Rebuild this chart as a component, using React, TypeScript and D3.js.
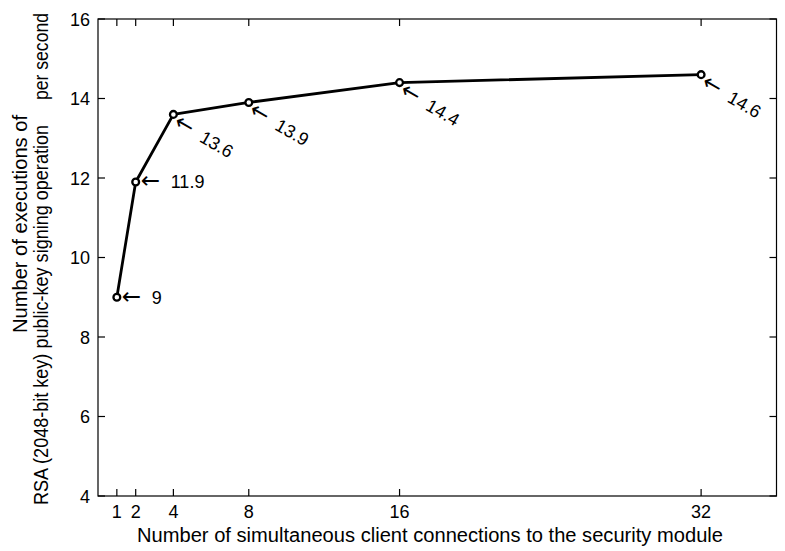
import React from "react";
import * as d3 from "d3";

const connections = [1, 2, 4, 8, 16, 32];
const rates = [9, 11.9, 13.6, 13.9, 14.4, 14.6];
const pointLabels = ["9", "11.9", "13.6", "13.9", "14.4", "14.6"];
const labelRotations = [0, 0, 30, 30, 30, 30];
const xTicks = [1, 2, 4, 8, 16, 32];
const yTicks = [4, 6, 8, 10, 12, 14, 16];
const xLabel = "Number of simultaneous client connections to the security module";
const yLabelLine1 = "Number of executions of";
const yLabelLine2a = "RSA (2048-bit key) public-key signing operation";
const yLabelLine2b = "per second";

const W = 785;
const H = 551;
const left = 98;
const right = 776.5;
const top = 19;
const bottom = 496;
const FONT = "'Liberation Sans', Arial, Helvetica, sans-serif";
const ARROW_FONT = "'DejaVu Sans', sans-serif";

export default function App() {
  const x = d3.scaleLinear().domain([0, 36]).range([left, right]);
  const y = d3.scaleLinear().domain([4, 16]).range([bottom, top]);
  const pts = connections.map((c, i) => [c, rates[i]] as [number, number]);
  const line = d3
    .line<[number, number]>()
    .x((d) => x(d[0]))
    .y((d) => y(d[1]));
  const tickLen = 7;

  return (
    <svg
      width={W}
      height={H}
      style={{ position: "absolute", left: 0, top: 0, background: "#fff" }}
      fontFamily={FONT}
    >
      <rect x={0} y={0} width={W} height={H} fill="#fff" />
      {/* frame */}
      <rect
        x={left}
        y={top}
        width={right - left}
        height={bottom - top}
        fill="none"
        stroke="#000"
        strokeWidth={1.2}
      />
      {/* x ticks */}
      {xTicks.map((t) => (
        <g key={"xt" + t}>
          <line x1={x(t)} x2={x(t)} y1={bottom} y2={bottom - tickLen} stroke="#000" strokeWidth={1.2} />
          <line x1={x(t)} x2={x(t)} y1={top} y2={top + tickLen} stroke="#000" strokeWidth={1.2} />
          <text x={x(t)} y={518} fontSize={18} textAnchor="middle" fill="#000">
            {t}
          </text>
        </g>
      ))}
      {/* y ticks */}
      {yTicks.map((t) => (
        <g key={"yt" + t}>
          <line x1={left} x2={left + tickLen} y1={y(t)} y2={y(t)} stroke="#000" strokeWidth={1.2} />
          <line x1={right} x2={right - tickLen} y1={y(t)} y2={y(t)} stroke="#000" strokeWidth={1.2} />
          <text x={90} y={y(t) + 6.5} fontSize={18} textAnchor="end" fill="#000">
            {t}
          </text>
        </g>
      ))}
      {/* data line */}
      <path d={line(pts) || ""} fill="none" stroke="#000" strokeWidth={2.8} strokeLinejoin="round" />
      {pts.map((p, i) => (
        <circle key={"m" + i} cx={x(p[0])} cy={y(p[1])} r={3.4} fill="#fff" stroke="#000" strokeWidth={2.3} />
      ))}
      {/* annotations */}
      {pts.map((p, i) => {
        const base = labelRotations[i] ? 10.5 : 6.5;
        return (
          <g key={"a" + i} transform={`translate(${x(p[0])},${y(p[1])}) rotate(${labelRotations[i]})`}>
            <text y={base} fill="#000">
              <tspan x={5} fontFamily={ARROW_FONT} fontSize={23}>
                {"\u2190"}
              </tspan>
              <tspan x={35} fontSize={18}>
                {pointLabels[i]}
              </tspan>
            </text>
          </g>
        );
      })}
      {/* axis labels */}
      <text x={430} y={542} fontSize={20} textAnchor="middle" fill="#000" textLength={586} lengthAdjust="spacingAndGlyphs">
        {xLabel}
      </text>
      <text
        transform="translate(27,333) rotate(-90)"
        fontSize={20}
        textAnchor="start"
        fill="#000"
        textLength={218}
        lengthAdjust="spacingAndGlyphs"
      >
        {yLabelLine1}
      </text>
      <text
        transform="translate(48,505) rotate(-90)"
        fontSize={20}
        textAnchor="start"
        fill="#000"
        textLength={380}
        lengthAdjust="spacingAndGlyphs"
      >
        {yLabelLine2a}
      </text>
      <text
        transform="translate(48,100) rotate(-90)"
        fontSize={20}
        textAnchor="start"
        fill="#000"
        textLength={87}
        lengthAdjust="spacingAndGlyphs"
      >
        {yLabelLine2b}
      </text>
    </svg>
  );
}
